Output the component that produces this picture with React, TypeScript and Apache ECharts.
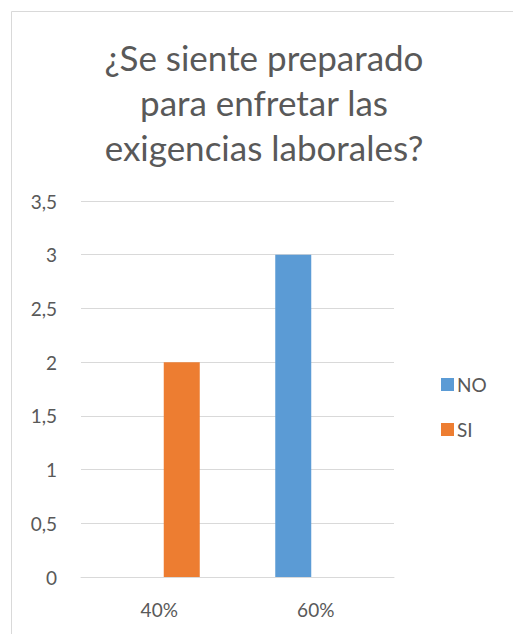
import React, { useEffect, useRef } from "react";
import * as echarts from "echarts";

// Survey: "¿Se siente preparado para enfretar las exigencias laborales?"
const categories = ["40%", "60%"];
const seriesNames = ["NO", "SI"];
const noValues = [0, 3];
const siValues = [2, 0];
const yTicks = [0, 0.5, 1, 1.5, 2, 2.5, 3, 3.5];
const titleLines = ["¿Se siente preparado", "para enfretar las", "exigencias laborales?"];

const FONT = "Lato, 'Open Sans', sans-serif";
const TEXT = "#595959";
const GRID = "#d9d9d9";

export default function App() {
  const ref = useRef<HTMLDivElement>(null);

  useEffect(() => {
    if (!ref.current) return;
    const chart = echarts.init(ref.current, undefined, { renderer: "svg" });
    chart.setOption({
      animation: false,
      backgroundColor: "#ffffff",
      textStyle: { fontFamily: FONT },
      graphic: [
        {
          type: "rect",
          shape: { x: 11.5, y: 11.5, width: 520, height: 640 },
          style: { fill: "none", stroke: GRID, lineWidth: 1 },
          silent: true,
        },
        ...titleLines.map((line, i) => ({
          type: "text",
          x: 264,
          y: 57 + i * 45,
          style: {
            text: line,
            fontFamily: FONT,
            fontSize: 35,
            fill: TEXT,
            textAlign: "center",
            textVerticalAlign: "middle",
          },
        })),
      ],
      legend: {
        orient: "vertical",
        left: 436,
        top: 370,
        itemWidth: 13,
        itemHeight: 13,
        itemGap: 26,
        icon: "rect",
        data: seriesNames,
        textStyle: { color: TEXT, fontSize: 19, fontFamily: FONT, padding: [0, 0, 0, -2] },
      },
      grid: { left: 81, right: 119, top: 201, bottom: 57, containLabel: false },
      xAxis: {
        type: "category",
        data: categories,
        axisLine: { show: true, lineStyle: { color: GRID, width: 1 } },
        axisTick: { show: false },
        axisLabel: { color: TEXT, fontSize: 19, fontFamily: FONT, margin: 23 },
      },
      yAxis: {
        type: "value",
        min: yTicks[0],
        max: yTicks[yTicks.length - 1],
        interval: 0.5,
        axisLine: { show: false },
        axisTick: { show: false },
        splitLine: { lineStyle: { color: GRID, width: 1 } },
        axisLabel: {
          color: TEXT,
          fontSize: 19,
          fontFamily: FONT,
          margin: 24,
          formatter: (v: number) => String(v).replace(".", ","),
        },
      },
      series: [
        {
          name: seriesNames[0],
          type: "bar",
          data: noValues,
          barWidth: 36,
          barGap: "25%",
          itemStyle: { color: "#5B9BD5" },
        },
        {
          name: seriesNames[1],
          type: "bar",
          data: siValues,
          barWidth: 36,
          itemStyle: { color: "#ED7D31" },
        },
      ],
    });
    return () => chart.dispose();
  }, []);

  return (
    <div
      ref={ref}
      style={{ position: "fixed", left: 0, top: 0, width: 513, height: 634 }}
    />
  );
}
